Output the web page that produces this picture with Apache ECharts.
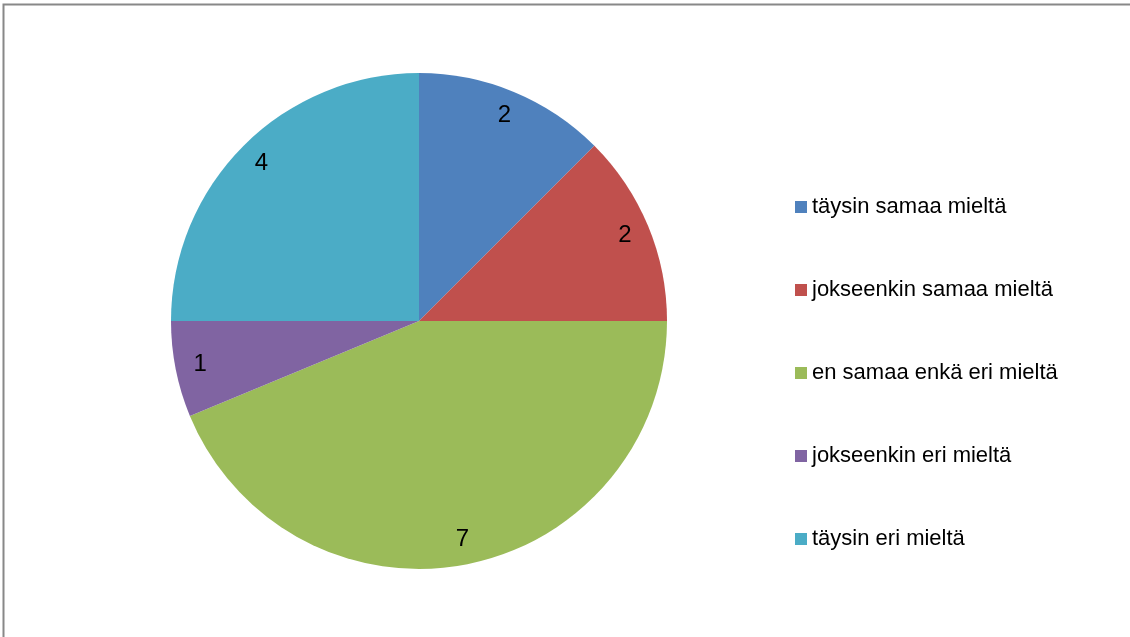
<!DOCTYPE html>
<html>
<head>
<meta charset="utf-8">
<script src="https://cdn.jsdelivr.net/npm/echarts@6/dist/echarts.min.js"></script>
<style>
  html, body { margin: 0; padding: 0; background: #fff; }
  #chart { width: 1130px; height: 637px; }
</style>
</head>
<body>
<div id="chart"></div>
<script>
// Answer categories and counts
const categories = [
  'täysin samaa mieltä',
  'jokseenkin samaa mieltä',
  'en samaa enkä eri mieltä',
  'jokseenkin eri mieltä',
  'täysin eri mieltä'
];
const counts = [2, 2, 7, 1, 4];
const colors = ['#4F81BD', '#C0504D', '#9BBB59', '#8064A2', '#4BACC6'];

const pieData = categories.map((name, i) => ({ name: name, value: counts[i] }));

const chart = echarts.init(document.getElementById('chart'), null, { renderer: 'canvas' });

const FONT = '"Liberation Sans", Arial, sans-serif';

chart.setOption({
  animation: false,
  color: colors,
  graphic: [{
    type: 'rect',
    silent: true,
    z: -10,
    shape: { x: 3.5, y: 4.5, width: 1200, height: 700 },
    style: { fill: 'none', stroke: '#888888', lineWidth: 2 }
  }],
  legend: {
    orient: 'vertical',
    left: 795,
    top: 196,
    padding: 0,
    itemWidth: 12,
    itemHeight: 12,
    itemGap: 61,
    icon: 'rect',
    textStyle: { fontFamily: FONT, fontSize: 22, color: '#000' },
    data: categories
  },
  series: [
    {
      // the slices
      type: 'pie',
      center: [419, 321],
      radius: [0, 248],
      startAngle: 90,
      clockwise: true,
      silent: true,
      label: { show: false },
      labelLine: { show: false },
      itemStyle: { borderWidth: 0 },
      data: pieData
    },
    {
      // transparent ring that carries the value labels near the rim
      type: 'pie',
      center: [419, 321],
      radius: [190, 250],
      startAngle: 90,
      clockwise: true,
      silent: true,
      itemStyle: { color: 'rgba(0,0,0,0)', borderWidth: 0 },
      label: {
        show: true,
        position: 'inside',
        formatter: '{c}',
        fontFamily: FONT,
        fontSize: 24,
        color: '#000',
        padding: [6, 0, 0, 0]
      },
      labelLine: { show: false },
      data: pieData
    }
  ]
});
</script>
</body>
</html>
